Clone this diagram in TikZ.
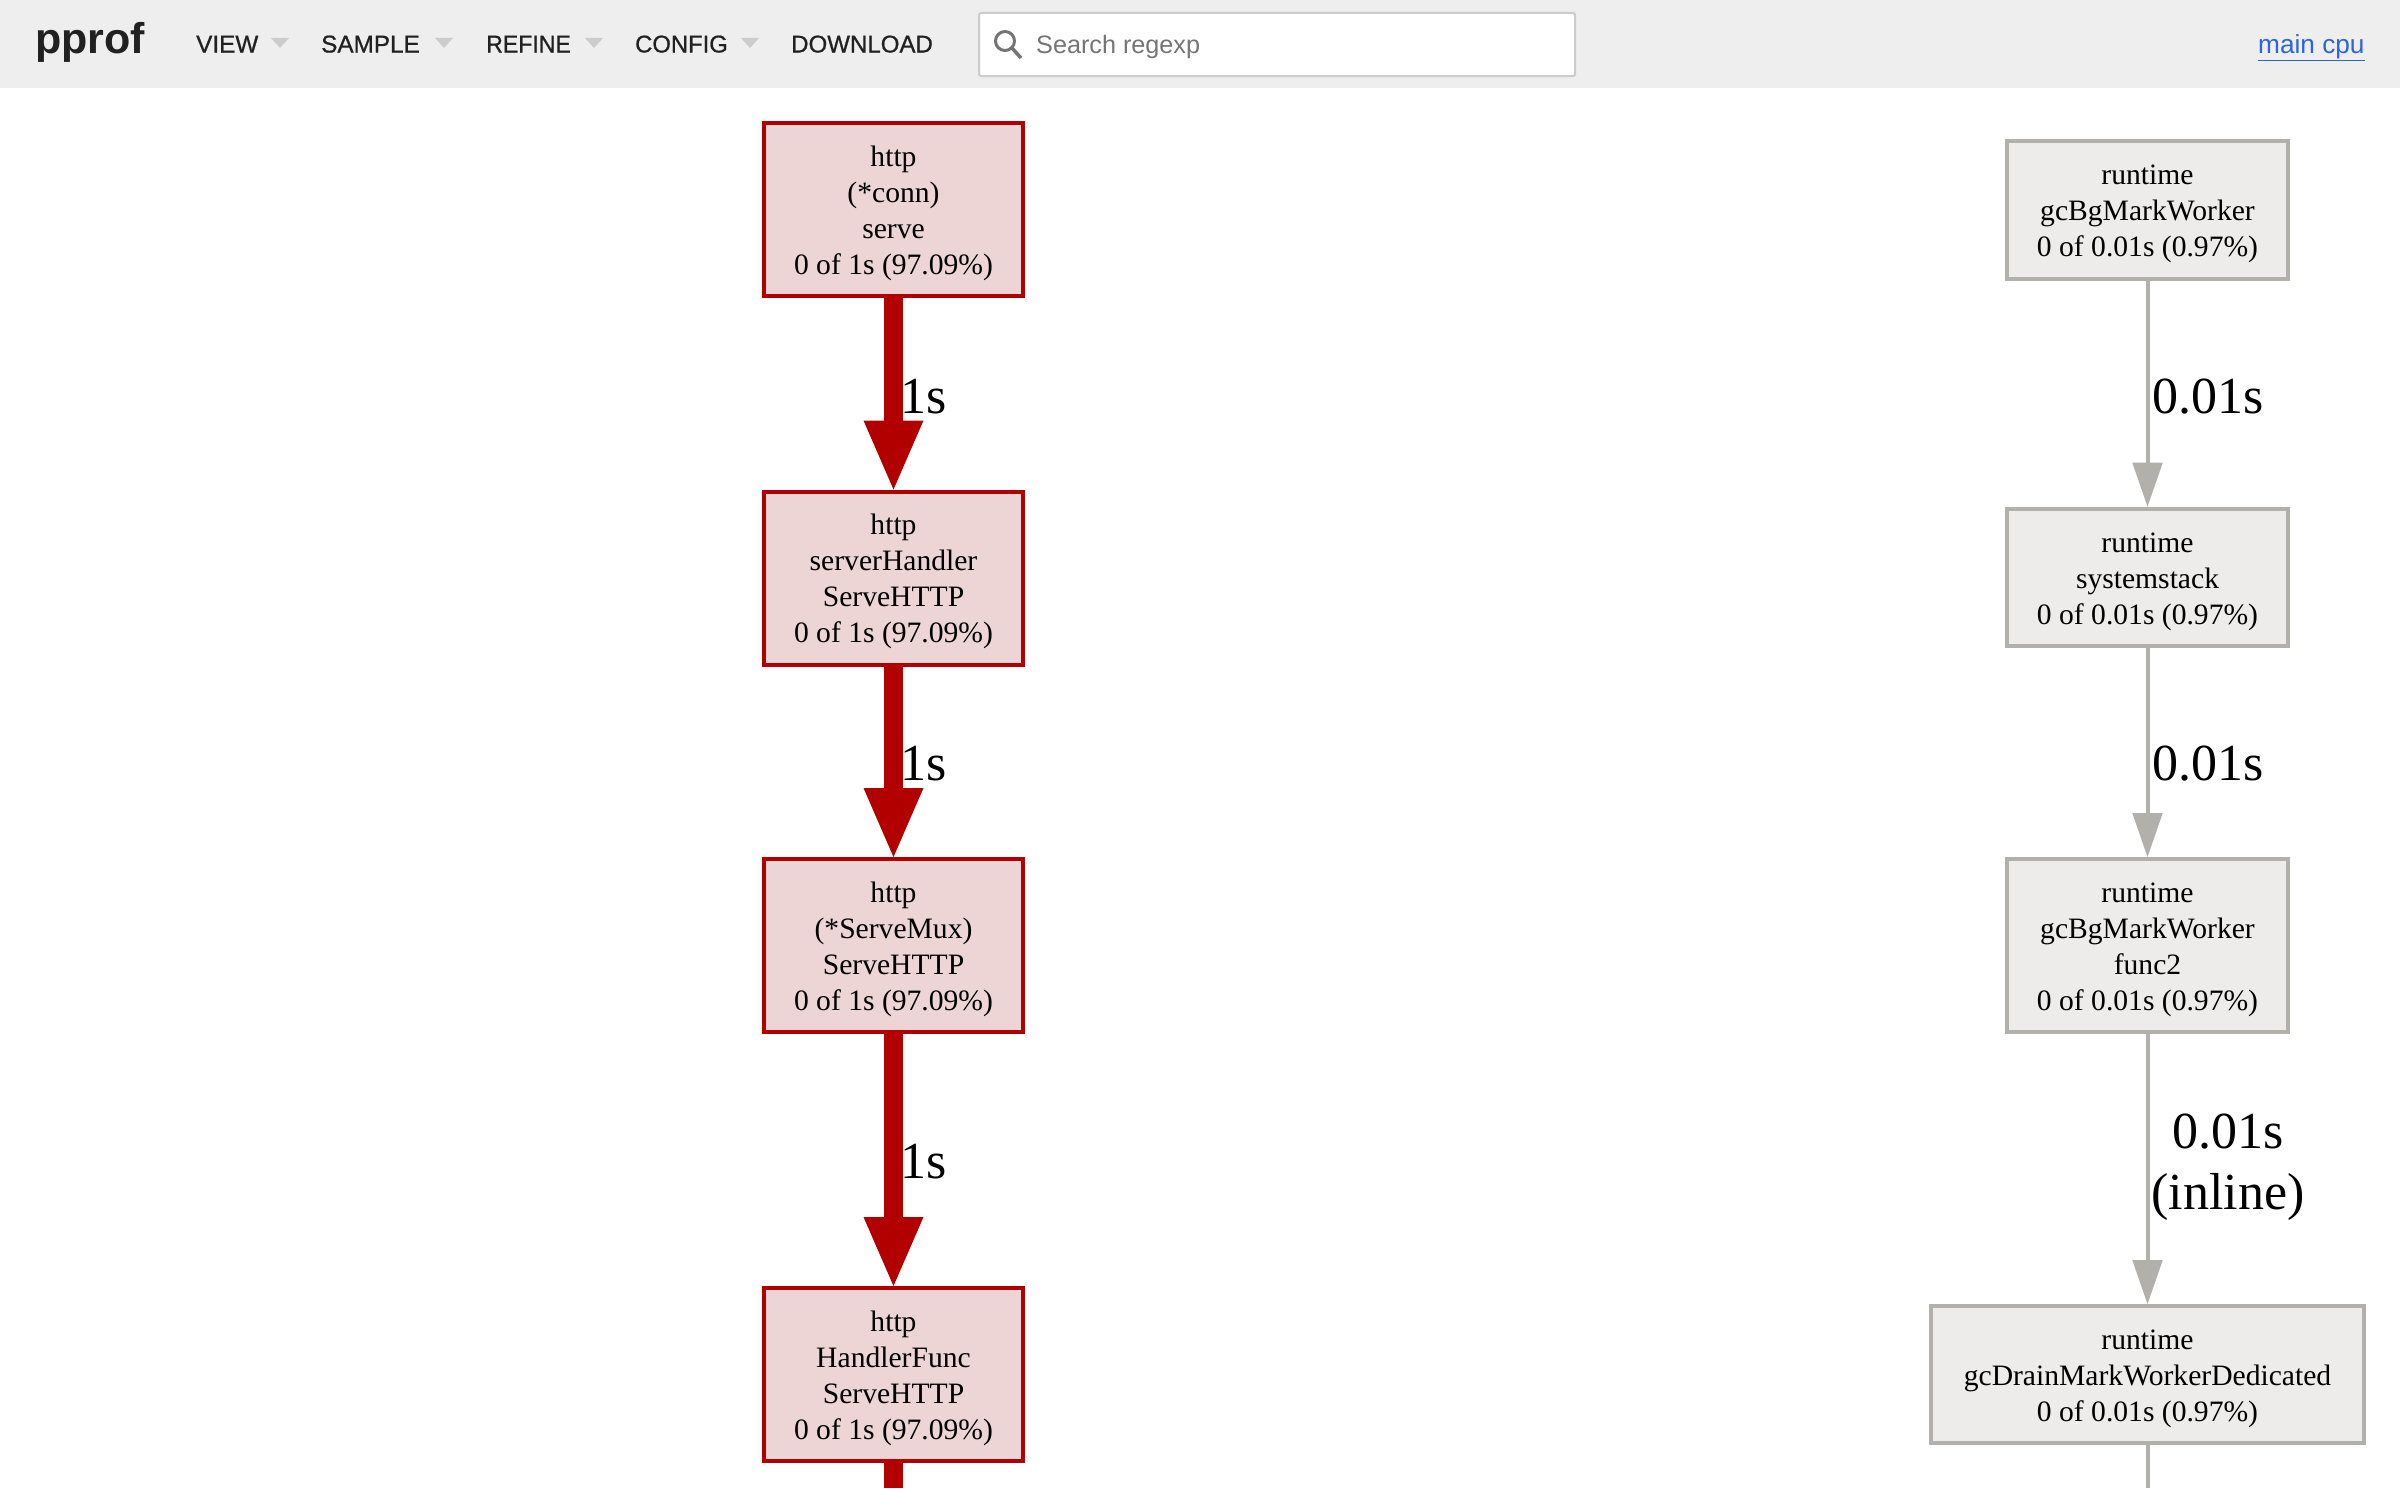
\documentclass[tikz,border=0pt]{standalone}
\usepackage{fontspec}
\usepackage{graphicx}
\setmainfont{Liberation Serif}
\newfontfamily\uifont{Liberation Sans}
\newfontfamily\uimed[FakeBold=0.8]{Liberation Sans}
\usetikzlibrary{arrows.meta}
\definecolor{hdrbg}{HTML}{EEEEEE}
\definecolor{redline}{HTML}{B20000}
\definecolor{redfill}{HTML}{EDD5D5}
\definecolor{greyline}{HTML}{B2B0AA}
\definecolor{greyfill}{HTML}{EDECEA}
\definecolor{menutxt}{HTML}{212121}
\definecolor{caretc}{HTML}{CCCCCC}
\definecolor{searchtxt}{HTML}{757575}
\definecolor{linkc}{HTML}{2A66D9}
\newcommand{\ftop}{\rule{0pt}{28pt}}
\newcommand{\fbot}{\rule[-7pt]{0pt}{7pt}}
\tikzset{
  x=1pt,y=-1pt,
  box/.style={draw,rectangle,line width=4pt,align=center,inner sep=0pt,
    font=\fontsize{29.6}{36}\selectfont},
  redbox/.style={box,draw=redline,fill=redfill,minimum width=259pt,minimum height=173pt},
  greybox/.style={box,draw=greyline,fill=greyfill,minimum width=281pt},
  redarrow/.style={draw=redline,line width=18.5pt,-{Triangle[length=69pt,width=60pt,line width=0pt,fill=redline]}},
  greyarrow/.style={draw=greyline,line width=4pt,-{Triangle[length=44pt,width=30.5pt,line width=0pt,fill=greyline]}},
  redstub/.style={draw=redline,line width=18.5pt},
  greystub/.style={draw=greyline,line width=4pt},
  edgelabel/.style={anchor=base,inner sep=0pt,font=\fontsize{52}{61}\selectfont,align=center},
  menu/.style={anchor=base west,inner sep=0pt,text=menutxt,font=\uimed\fontsize{24.3}{28}\selectfont},
  caret/.style={fill=caretc,draw=none},
}
\begin{document}
\begin{tikzpicture}
\useasboundingbox (0,0) rectangle (2400,1488);
\fill[white] (0,0) rectangle (2400,1488);
\fill[hdrbg] (0,0) rectangle (2400,88);

% header
\node[anchor=base west,inner sep=0pt,text=menutxt,font=\uifont\bfseries\fontsize{43}{48}\selectfont] (logo) at (35,53) {pprof};
\node[menu] (mview) at (196,52.5) {VIEW};
\node[menu] (msample) at (321,52.5) {SAMPLE};
\node[menu] (mrefine) at (486,52.5) {\scalebox{0.95}[1]{REFINE}};
\node[menu] (mconfig) at (635,52.5) {\scalebox{0.98}[1]{CONFIG}};
\node[menu] (mdownload) at (791,52.5) {\scalebox{0.99}[1]{DOWNLOAD}};
\fill[caret] (271,38) -- (289,38) -- (280,48) -- cycle;
\fill[caret] (435,38) -- (453,38) -- (444,48) -- cycle;
\fill[caret] (585,38) -- (603,38) -- (594,48) -- cycle;
\fill[caret] (741,38) -- (759,38) -- (750,48) -- cycle;
\node[draw=caretc,fill=white,line width=2pt,rounded corners=2pt,minimum width=596pt,minimum height=63pt,inner sep=0pt] (search) at (1277,44.5) {};
\draw[searchtxt,line width=3pt] (1005,41) circle (9.5);
\draw[searchtxt,line width=3.5pt] (1012,48) -- (1021,58);
\node[anchor=base west,inner sep=0pt,text=searchtxt,font=\uifont\fontsize{25.2}{30}\selectfont] (stext) at (1036,53) {Search regexp};
\node[anchor=base west,inner sep=0pt,text=linkc,font=\uifont\fontsize{26.2}{30}\selectfont] (mainc) at (2258,53) {\underline{main cpu}};

% left column
\node[redbox] (a1) at (893.5,209.5) {\ftop http\\(*conn)\\serve\\0 of 1s (97.09\%)\fbot};
\node[redbox] (a2) at (893.5,578) {\ftop http\\serverHandler\\ServeHTTP\\0 of 1s (97.09\%)\fbot};
\node[redbox] (a3) at (893.5,945.5) {\ftop http\\(*ServeMux)\\ServeHTTP\\0 of 1s (97.09\%)\fbot};
\node[redbox] (a4) at (893.5,1374.5) {\ftop http\\HandlerFunc\\ServeHTTP\\0 of 1s (97.09\%)\fbot};
\coordinate (aend) at (893.5,1488);
\draw[redarrow] (a1) -- (a2);
\draw[redarrow] (a2) -- (a3);
\draw[redarrow] (a3) -- (a4);
\draw[redstub] (a4) -- (aend);
\node[edgelabel] (la1) at (924,413) {1s};
\node[edgelabel] (la2) at (924,780) {1s};
\node[edgelabel] (la3) at (924,1178) {1s};

% right column
\node[greybox,minimum height=137.7pt] (b1) at (2147.5,209.8) {\ftop runtime\\gcBgMarkWorker\\0 of 0.01s (0.97\%)\fbot};
\node[greybox,minimum height=137.7pt] (b2) at (2147.5,577.5) {\ftop runtime\\systemstack\\0 of 0.01s (0.97\%)\fbot};
\node[greybox,minimum height=173pt] (b3) at (2147.5,945.5) {\ftop runtime\\gcBgMarkWorker\\func2\\0 of 0.01s (0.97\%)\fbot};
\node[greybox,minimum width=433pt,minimum height=137pt] (b4) at (2147.5,1374.5) {\ftop runtime\\gcDrainMarkWorkerDedicated\\0 of 0.01s (0.97\%)\fbot};
\coordinate (bend) at (2147.5,1488);
\draw[greyarrow] (b1) -- (b2);
\draw[greyarrow] (b2) -- (b3);
\draw[greyarrow] (b3) -- (b4);
\draw[greystub] (b4) -- (bend);
\node[edgelabel] (lb1) at (2208,413) {0.01s};
\node[edgelabel] (lb2) at (2208,780) {0.01s};
\node[edgelabel] (lb3) at (2228,1209) {0.01s\\(inline)};
\end{tikzpicture}
\end{document}
